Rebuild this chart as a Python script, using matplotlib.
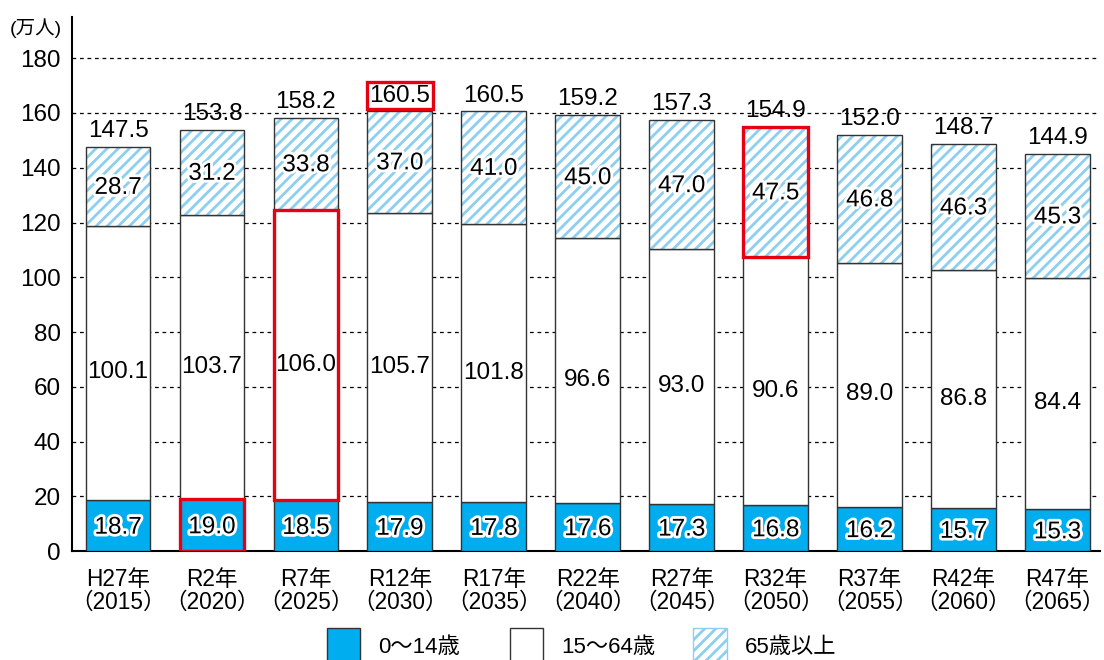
import matplotlib
matplotlib.use('Agg')
import matplotlib.pyplot as plt
import matplotlib.patheffects as pe
from matplotlib.patches import Patch
import numpy as np

plt.rcParams['font.family'] = ['Liberation Sans', 'Noto Sans CJK JP']
plt.rcParams['hatch.linewidth'] = 2.0

# data (万人)
years = ['H27年\n（2015）', 'R2年\n（2020）', 'R7年\n（2025）', 'R12年\n（2030）', 'R17年\n（2035）',
         'R22年\n（2040）', 'R27年\n（2045）', 'R32年\n（2050）', 'R37年\n（2055）', 'R42年\n（2060）',
         'R47年\n（2065）']
young = [18.7, 19.0, 18.5, 17.9, 17.8, 17.6, 17.3, 16.8, 16.2, 15.7, 15.3]
working = [100.1, 103.7, 106.0, 105.7, 101.8, 96.6, 93.0, 90.6, 89.0, 86.8, 84.4]
old = [28.7, 31.2, 33.8, 37.0, 41.0, 45.0, 47.0, 47.5, 46.8, 46.3, 45.3]
totals = [147.5, 153.8, 158.2, 160.5, 160.5, 159.2, 157.3, 154.9, 152.0, 148.7, 144.9]
legend_labels = ['0～14歳', '15～64歳', '65歳以上']

blue = '#00aeef'
stripe = '#8ccff0'
red = '#e60012'
edge = '#333333'

x = np.arange(len(years))
young = np.array(young)
working = np.array(working)
old = np.array(old)
w = 0.69

fig = plt.figure(figsize=(11.04, 6.6), dpi=100)
ax = fig.add_axes([0.0652, 0.165, 0.931, 0.809])

ax.bar(x, young, w, color=blue, edgecolor=edge, linewidth=1, zorder=3)
ax.bar(x, working, w, bottom=young, color='white', edgecolor=edge, linewidth=1, zorder=3)
ax.bar(x, old, w, bottom=young + working, color='white', edgecolor=stripe, hatch='///',
       linewidth=0, zorder=3)
ax.bar(x, old, w, bottom=young + working, fill=False, edgecolor=edge, linewidth=1, zorder=4)

# highlighted segments
ax.bar(x[1], young[1], w, fill=False, edgecolor=red, linewidth=2.4, zorder=5)
ax.bar(x[2], working[2], w, bottom=young[2], fill=False, edgecolor=red, linewidth=2.4, zorder=5)
ax.bar(x[7], old[7], w, bottom=young[7] + working[7], fill=False, edgecolor=red, linewidth=2.4, zorder=5)

stroke = [pe.withStroke(linewidth=4, foreground='white')]
fs = 17.5
for i in range(len(x)):
    ax.text(x[i], young[i] / 2 - 0.8, f'{young[i]:.1f}', ha='center', va='center', fontsize=fs,
            path_effects=stroke, zorder=6)
    ax.text(x[i], young[i] + working[i] / 2 - 3.5, f'{working[i]:.1f}', ha='center', va='center',
            fontsize=fs, zorder=6)
    ax.text(x[i], young[i] + working[i] + old[i] / 2 - 0.5, f'{old[i]:.1f}', ha='center', va='center',
            fontsize=fs, path_effects=stroke, zorder=6)
    kw = {}
    if i == 3:
        kw['bbox'] = dict(boxstyle='square,pad=0.1', facecolor='white', edgecolor=red, linewidth=2.4)
    ax.text(x[i], totals[i] + 1.8, f'{totals[i]:.1f}', ha='center', va='bottom', fontsize=fs,
            zorder=6, **kw)

ax.set_xlim(-0.49, 10.45)
ax.set_ylim(0, 195)
ax.set_yticks(range(0, 181, 20))
ax.tick_params(axis='y', length=0, labelsize=fs, pad=8)
ax.tick_params(axis='x', length=0, labelsize=16.3, pad=12)
ax.set_xticks(x)
ax.set_xticklabels(years, linespacing=0.98)
for g in range(20, 181, 20):
    ax.axhline(g, color='black', linestyle=(0, (3, 3)), linewidth=0.9, zorder=1)
for s in ['top', 'right']:
    ax.spines[s].set_visible(False)
ax.spines['left'].set_linewidth(1.5)
ax.spines['bottom'].set_linewidth(1.5)

fig.text(0.009, 0.958, '(万人)', fontsize=14, ha='left', va='center')

handles = [Patch(facecolor=blue, edgecolor=edge),
           Patch(facecolor='white', edgecolor=edge),
           Patch(facecolor='white', edgecolor=stripe, hatch='///')]
for h, lab, xpos in zip(handles, legend_labels, [0.296, 0.462, 0.628]):
    h.set_label(lab)
    fig.legend(handles=[h], loc='upper left', bbox_to_anchor=(xpos, 0.049), frameon=False,
               fontsize=16, handlelength=1.5, handleheight=2.2, handletextpad=0.8,
               borderaxespad=0, borderpad=0)

fig.savefig('out.png', dpi=100)
